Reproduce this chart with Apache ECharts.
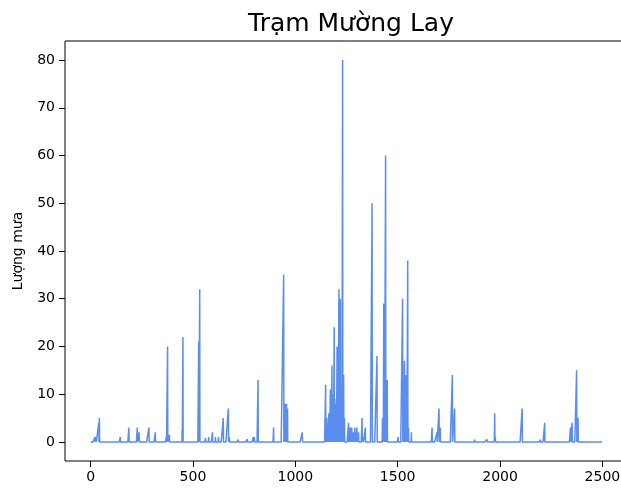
<!DOCTYPE html>
<html>
<head>
<meta charset="utf-8">
<script src="https://cdn.jsdelivr.net/npm/echarts@6/dist/echarts.min.js"></script>
<style>html,body{margin:0;padding:0;background:#fff;overflow:hidden}#c{width:640px;height:488px}</style>
</head>
<body>
<div id="c"></div>
<script>
const titleText = 'Trạm Mường Lay';
const yName = 'Lượng mưa';
const seriesLength = 2501;
const xTicks = [0, 500, 1000, 1500, 2000, 2500];
const yTicks = [0, 10, 20, 30, 40, 50, 60, 70, 80];
// non-zero rainfall days (index) and their values; all other days are 0
const rainDay = [22,27,40,43,145,187,228,237,285,316,370,376,385,447,451,528,533,561,577,595,610,625,648,673,678,721,765,794,800,818,894,943,948,952,957,962,1034,1122,1148,1151,1154,1158,1164,1167,1171,1175,1179,1183,1186,1190,1193,1196,1200,1204,1208,1213,1216,1220,1224,1227,1231,1236,1240,1260,1263,1266,1269,1273,1276,1280,1283,1287,1291,1296,1301,1309,1326,1332,1342,1375,1399,1426,1429,1432,1435,1441,1445,1449,1502,1524,1528,1533,1539,1544,1549,1553,1567,1668,1692,1702,1708,1767,1778,1876,1937,1943,1974,1977,2108,2140,2197,2218,2344,2352,2374,2381];
const rainValue = [1,1,4,5,1,3,3,2,3,2,1,20,1.5,2.5,22,21,32,0.8,1,2,1,1,5,7,1,0.5,0.6,1,1,13,3,35,8,8,8,7,2,0.3,12,3,5,2,6,4,11,6,16,10,5,24,9,8,6,20,12,32,10,30,8,12,80,14,5,4,2,3,3,2,3,1,2,1,3,2,3,2,5,1,3,50,18,5,3,29,5,60,10,13,1,30,6,17,14,5,38,3,2,3,2,7,3,14,7,0.5,0.5,0.4,6,1,7,0.3,0.5,4,3,4,15,5];

const values = new Array(seriesLength).fill(0);
rainDay.forEach((d, i) => { values[d] = rainValue[i]; });
const data = values.map((v, i) => [i, v]);

const chart = echarts.init(document.getElementById('c'), null, {renderer: 'canvas'});
const font = 'DejaVu Sans';
const plain = v => String(v);
chart.setOption({
  animation: false,
  title: {
    text: titleText, left: 346, top: 7, textAlign: 'center',
    textStyle: {fontFamily: font, fontSize: 25, fontWeight: 'normal', color: '#000'}
  },
  grid: {left: 65, top: 41, width: 563, height: 420, show: true, borderColor: '#000', borderWidth: 1,
    backgroundColor: 'transparent', outerBoundsMode: 'none', containLabel: false},
  xAxis: {
    type: 'value', min: -125, max: 2625,
    splitLine: {show: false},
    axisLine: {show: false, onZero: false},
    axisTick: {show: true, length: 6, lineStyle: {color: '#000'}, customValues: xTicks},
    axisLabel: {fontFamily: font, fontSize: 14, color: '#000', margin: 9, customValues: xTicks, formatter: plain}
  },
  yAxis: {
    type: 'value', min: -4, max: 84,
    name: yName, nameLocation: 'middle', nameGap: 40,
    nameTextStyle: {fontFamily: font, fontSize: 14, color: '#000'},
    splitLine: {show: false},
    axisLine: {show: false, onZero: false},
    axisTick: {show: true, length: 6, lineStyle: {color: '#000'}, customValues: yTicks},
    axisLabel: {fontFamily: font, fontSize: 14, color: '#000', margin: 10, customValues: yTicks, formatter: plain}
  },
  series: [{
    type: 'line', data: data, showSymbol: false, symbol: 'none',
    lineStyle: {width: 1.5, color: '#5b8def'}, itemStyle: {color: '#5b8def'},
    silent: true
  }]
});
</script>
</body>
</html>
